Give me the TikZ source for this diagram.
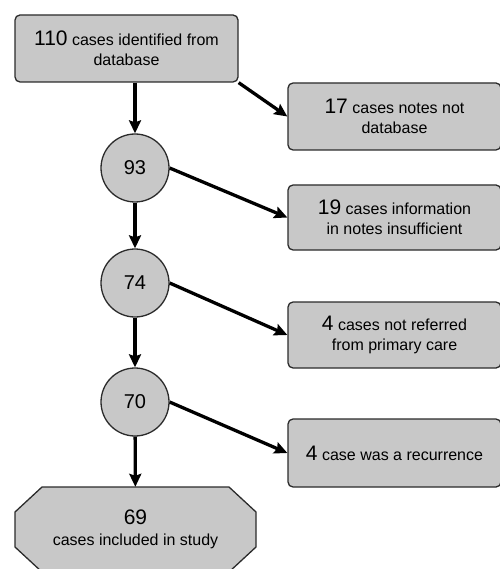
\documentclass[tikz,border=0pt]{standalone}
\usepackage{fontspec}
\setmainfont{Liberation Sans}
\usepackage{tikz}
\usetikzlibrary{arrows.meta, positioning, calc}
\definecolor{FlowGrey}{HTML}{C8C8C8}
\definecolor{FlowEdge}{HTML}{2B2B2B}
\newcommand{\bignum}[1]{{\fontsize{21}{20}\selectfont #1}}
\tikzset{
    % Node styles
    casebox/.style={
        rectangle,
        rounded corners=5pt,
        draw=FlowEdge,
        fill=FlowGrey,
        line width=1.3pt,
        align=center,
        font=\fontsize{16}{20}\selectfont
    },
    countnode/.style={
        circle,
        draw=FlowEdge,
        fill=FlowGrey,
        line width=1.3pt,
        minimum size=68pt,
        inner sep=0pt,
        font=\fontsize{20}{24}\selectfont
    },
    finalbox/.style={
        rectangle,
        minimum width=241pt,
        minimum height=85pt,
        inner sep=0pt,
        align=center,
        font=\fontsize{16}{21}\selectfont
    },
    finalshape/.style={
        draw=FlowEdge,
        fill=FlowGrey,
        line width=1.3pt
    },
    % Arrow style
    myarrow/.style={
        -{Stealth[length=13pt,width=12pt,inset=2pt]},
        line width=3.3pt,
        black
    }
}
\begin{document}
\begin{tikzpicture}[x=1pt, y=-1pt]
    \useasboundingbox (0,0) rectangle (499,569);

    \node[casebox, minimum width=223pt, minimum height=67pt] (src) at (126.5,48.5) {\bignum{110} cases identified from\\database};

    \node[countnode] (n93) at (135,168) {93};
    \node[countnode] (n74) at (135,283) {74};
    \node[countnode] (n70) at (135,402) {70};

    % octagon behind the final count
    \coordinate (oct) at (135.5,529.5);
    \draw[finalshape] ($(oct)+(-93.5,-42.5)$) -- ($(oct)+(93.5,-42.5)$) -- ($(oct)+(120.5,-17.5)$) -- ($(oct)+(120.5,17.5)$)
        -- ($(oct)+(93.5,42.5)$) -- ($(oct)+(-93.5,42.5)$) -- ($(oct)+(-120.5,17.5)$) -- ($(oct)+(-120.5,-17.5)$) -- cycle;
    \node[finalbox] (incl) at (oct) {\bignum{69}\\cases included in study};

    \node[casebox, minimum width=213pt, minimum height=67pt] (notdb) at (394.5,116.5) {\bignum{17} cases notes not\\database};
    \node[casebox, minimum width=213pt, minimum height=65pt] (insuff) at (394.5,217.5) {\bignum{19} cases information\\in notes insufficient};
    \node[casebox, minimum width=213pt, minimum height=66pt] (notref) at (394.5,335) {\bignum{4} cases not referred\\from primary care};
    \node[casebox, minimum width=213pt, minimum height=68pt] (recur) at (394.5,453) {\bignum{4} case was a recurrence};

    \draw[myarrow] (src.south -| n93) -- (n93);
    \draw[myarrow] (n93) -- (n74);
    \draw[myarrow] (n74) -- (n70);
    \draw[myarrow] (n70) -- (incl);
    \draw[myarrow] (src.south east) -- (notdb.west);
    \draw[myarrow] (n93.east) -- (insuff.west);
    \draw[myarrow] (n74.east) -- (notref.west);
    \draw[myarrow] (n70.east) -- (recur.west);
\end{tikzpicture}
\end{document}
